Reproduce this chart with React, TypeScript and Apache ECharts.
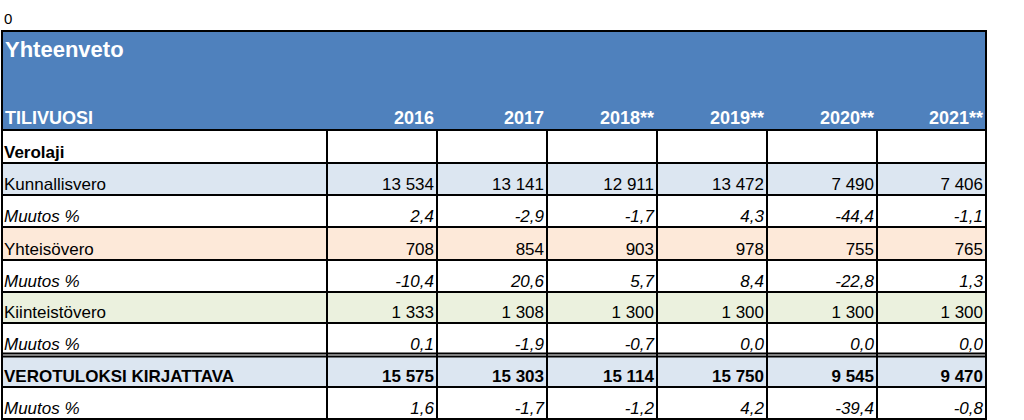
import React, { useEffect, useRef } from "react";
import * as echarts from "echarts";

const title = "Yhteenveto";
const headerLabel = "TILIVUOSI";
const years = ["2016", "2017", "2018**", "2019**", "2020**", "2021**"];
const rowLabels = [
  "Verolaji",
  "Kunnallisvero",
  "Muutos %",
  "Yhteisövero",
  "Muutos %",
  "Kiinteistövero",
  "Muutos %",
  "VEROTULOKSI KIRJATTAVA",
  "Muutos %",
];
const kunnallisvero = [13534, 13141, 12911, 13472, 7490, 7406];
const kunnallisveroMuutos = [2.4, -2.9, -1.7, 4.3, -44.4, -1.1];
const yhteisovero = [708, 854, 903, 978, 755, 765];
const yhteisoveroMuutos = [-10.4, 20.6, 5.7, 8.4, -22.8, 1.3];
const kiinteistovero = [1333, 1308, 1300, 1300, 1300, 1300];
const kiinteistoveroMuutos = [0.1, -1.9, -0.7, 0.0, 0.0, 0.0];
const verotuloksi = [15575, 15303, 15114, 15750, 9545, 9470];
const verotuloksiMuutos = [1.6, -1.7, -1.2, 4.2, -39.4, -0.8];

const FONT = "'Liberation Sans', Arial, sans-serif";

function fmtInt(v: number) {
  return String(v).replace(/\B(?=(\d{3})+(?!\d))/g, " ");
}
function fmtPct(v: number) {
  return v.toFixed(1).replace(".", ",");
}

export default function App() {
  const ref = useRef<HTMLDivElement>(null);
  useEffect(() => {
    if (!ref.current) return;
    const chart = echarts.init(ref.current, null, { renderer: "svg" });

    const colX = [2, 327, 437, 547, 657, 767, 877, 986];
    const rowY = [130, 163, 195, 227, 260, 292, 323, 354.5, 387, 419];
    const headerTop = 31;

    type Row = { vals: (string | null)[]; fill: string; bold: boolean; italic: boolean };
    const rows: Row[] = [
      { vals: years.map(() => null), fill: "#ffffff", bold: true, italic: false },
      { vals: kunnallisvero.map(fmtInt), fill: "#DCE6F1", bold: false, italic: false },
      { vals: kunnallisveroMuutos.map(fmtPct), fill: "#ffffff", bold: false, italic: true },
      { vals: yhteisovero.map(fmtInt), fill: "#FDE9D9", bold: false, italic: false },
      { vals: yhteisoveroMuutos.map(fmtPct), fill: "#ffffff", bold: false, italic: true },
      { vals: kiinteistovero.map(fmtInt), fill: "#EBF1DE", bold: false, italic: false },
      { vals: kiinteistoveroMuutos.map(fmtPct), fill: "#ffffff", bold: false, italic: true },
      { vals: verotuloksi.map(fmtInt), fill: "#DCE6F1", bold: true, italic: false },
      { vals: verotuloksiMuutos.map(fmtPct), fill: "#ffffff", bold: false, italic: true },
    ];

    const els: any[] = [];
    els.push({
      type: "text",
      x: 4,
      y: 18,
      style: { text: "0", font: `15px ${FONT}`, fill: "#000", verticalAlign: "middle" },
    });
    els.push({
      type: "rect",
      shape: { x: colX[0], y: headerTop, width: colX[7] - colX[0], height: rowY[0] - headerTop },
      style: { fill: "#4F81BD" },
    });
    els.push({
      type: "text",
      x: 5,
      y: 49,
      style: { text: title, font: `bold 22px ${FONT}`, fill: "#fff", verticalAlign: "middle" },
    });
    els.push({
      type: "text",
      x: 5,
      y: 118,
      style: { text: headerLabel, font: `bold 18px ${FONT}`, fill: "#fff", verticalAlign: "middle" },
    });
    years.forEach((yr, i) => {
      els.push({
        type: "text",
        x: colX[i + 2] - 3,
        y: 118,
        style: { text: yr, font: `bold 18px ${FONT}`, fill: "#fff", align: "right", verticalAlign: "middle" },
      });
    });

    rows.forEach((r, ri) => {
      const top = ri === 7 ? 356.5 : rowY[ri];
      const bot = rowY[ri + 1];
      els.push({
        type: "rect",
        shape: { x: colX[0], y: top, width: colX[7] - colX[0], height: bot - top },
        style: { fill: r.fill },
      });
      const cy = bot - 10.5;
      const style = `${r.italic ? "italic " : ""}${r.bold ? "bold " : ""}17px ${FONT}`;
      els.push({
        type: "text",
        x: 4,
        y: cy,
        style: { text: rowLabels[ri], font: style, fill: "#000", verticalAlign: "middle" },
      });
      r.vals.forEach((v, ci) => {
        if (v === null) return;
        els.push({
          type: "text",
          x: colX[ci + 2] - 3,
          y: cy,
          style: { text: v, font: style, fill: "#000", align: "right", verticalAlign: "middle" },
        });
      });
    });

    const lineStyle = { stroke: "#000", lineWidth: 2 };
    const hLines = [headerTop, ...rowY.slice(0, 7), 353.5, 356.5, 387, 419];
    hLines.forEach((y) => {
      els.push({ type: "line", shape: { x1: colX[0] - 1, y1: y, x2: colX[7] + 1, y2: y }, style: lineStyle });
    });
    els.push({ type: "line", shape: { x1: colX[0], y1: headerTop, x2: colX[0], y2: 420 }, style: lineStyle });
    els.push({ type: "line", shape: { x1: colX[7], y1: headerTop, x2: colX[7], y2: 420 }, style: lineStyle });
    colX.slice(1, 7).forEach((x) => {
      els.push({ type: "line", shape: { x1: x, y1: rowY[0], x2: x, y2: 420 }, style: lineStyle });
    });

    chart.setOption({ animation: false, graphic: { elements: els } });
    return () => chart.dispose();
  }, []);
  return (
    <div
      ref={ref}
      style={{ position: "absolute", left: 0, top: 0, width: 1024, height: 420, background: "#fff" }}
    />
  );
}
